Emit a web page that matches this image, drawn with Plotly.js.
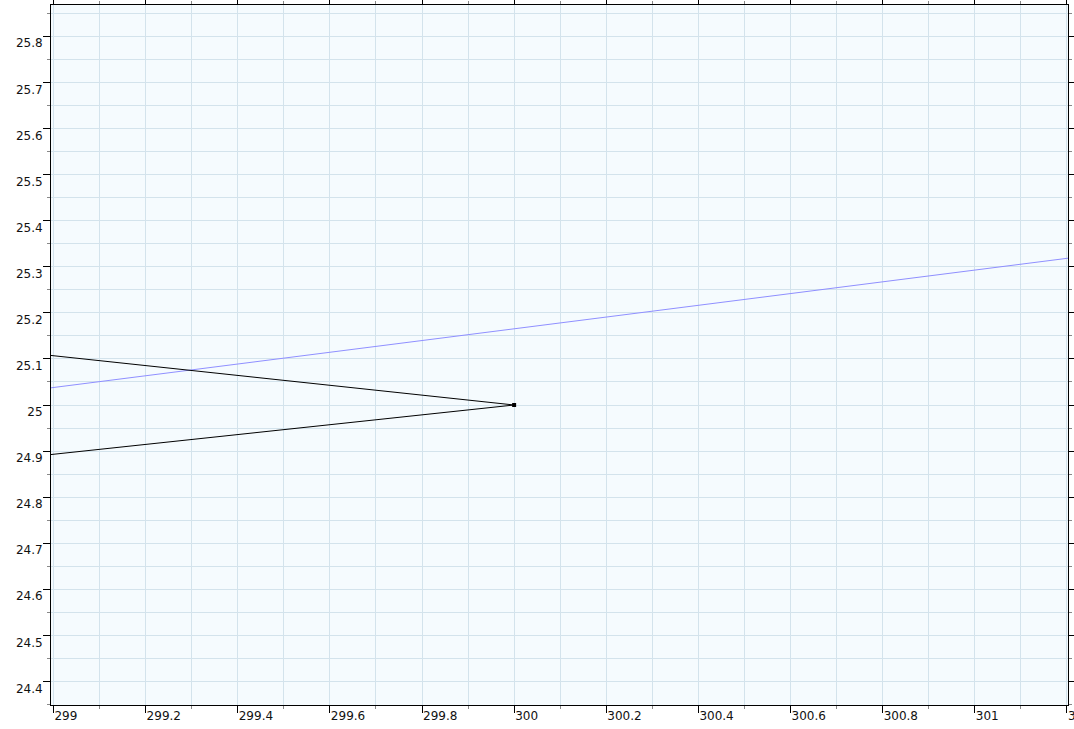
<!DOCTYPE html>
<html>
<head>
<meta charset="utf-8">
<script src="https://cdn.plot.ly/plotly-3.0.1.min.js"></script>
<style>html,body{margin:0;padding:0;background:#fff;overflow:hidden;}#chart{width:1074px;height:729px;}</style>
</head>
<body>
<div id="chart"></div>
<script>
// Black wedge: two arms meeting at (300, 25)
const wedgeX = [298.99, 300, 298.99];
const wedgeY = [25.108, 25.0, 24.892];
// Blue line
const blueX = [298.99, 301.21];
const blueY = [25.0367, 25.3195];
// Vertex point
const pointX = [300];
const pointY = [25];

const xRange = [298.9946, 301.2024];
const yRange = [24.349, 25.868];

const gridColor = '#d3e3ec';
const font = {family: 'DejaVu Sans', size: 12, color: '#111'};

const traces = [
  {x: blueX, y: blueY, mode: 'lines', line: {color: '#8f8fff', width: 1}, hoverinfo: 'none'},
  {x: wedgeX, y: wedgeY, mode: 'lines', line: {color: '#000', width: 1}, hoverinfo: 'none'},
  {x: pointX, y: pointY, mode: 'markers', marker: {color: '#000', size: 4, symbol: 'square'}, hoverinfo: 'none'}
];

const layout = {
  width: 1074, height: 729,
  margin: {l: 51, r: 6, t: 5, b: 24, pad: 0},
  paper_bgcolor: '#ffffff',
  plot_bgcolor: '#f5fbfe',
  showlegend: false,
  font: font,
  xaxis: {
    range: xRange, autorange: false,
    dtick: 0.2, tick0: 299,
    ticks: 'outside', ticklen: 7, tickcolor: '#000', tickwidth: 1,
    showline: true, linecolor: '#000', linewidth: 1, mirror: 'ticks',
    showgrid: true, gridcolor: gridColor, gridwidth: 1,
    zeroline: false,
    ticklabelposition: 'outside right',
    ticklabeloverflow: 'allow',
    tickfont: font,
    minor: {dtick: 0.1, ticks: 'outside', ticklen: 3, tickcolor: '#888', showgrid: true, gridcolor: gridColor, gridwidth: 1}
  },
  yaxis: {
    range: yRange, autorange: false,
    dtick: 0.1, tick0: 25,
    ticks: 'outside', ticklen: 7, tickcolor: '#000', tickwidth: 1,
    showline: true, linecolor: '#000', linewidth: 1, mirror: 'ticks',
    showgrid: true, gridcolor: gridColor, gridwidth: 1,
    zeroline: false,
    ticklabelposition: 'outside bottom',
    ticklabelstandoff: 5,
    ticklabelshift: -2,
    ticklabeloverflow: 'allow',
    tickfont: font,
    minor: {dtick: 0.05, ticks: 'outside', ticklen: 3, tickcolor: '#888', showgrid: true, gridcolor: gridColor, gridwidth: 1}
  }
};

Plotly.newPlot('chart', traces, layout, {displayModeBar: false, staticPlot: true});
</script>
</body>
</html>
